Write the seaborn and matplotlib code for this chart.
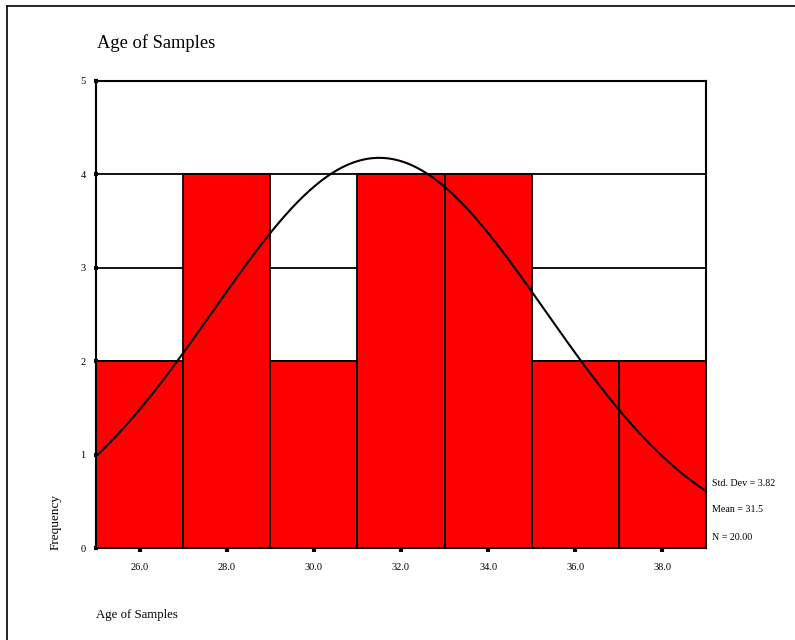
import numpy as np
import pandas as pd
import matplotlib
matplotlib.use("Agg")
import matplotlib.pyplot as plt
from matplotlib.lines import Line2D
import seaborn as sns

# histogram bins (age, width 2) and counts
bin_left = [25, 27, 29, 31, 33, 35, 37]
counts = [2, 4, 2, 4, 4, 2, 2]
bin_width = 2
x_ticks = [26, 28, 30, 32, 34, 36, 38]
y_ticks = [0, 1, 2, 3, 4, 5]

std_dev = 3.82
mean_age = 31.5
n_total = 20.00

sns.set_theme(style="white")
plt.rcParams["font.family"] = ["Liberation Serif", "DejaVu Serif"]
plt.rcParams["text.color"] = "black"
plt.rcParams["xtick.color"] = "black"
plt.rcParams["ytick.color"] = "black"

df = pd.DataFrame({"age": [b + bin_width / 2 for b in bin_left], "count": counts})

fig = plt.figure(figsize=(7.95, 6.4), dpi=100)
ax = fig.add_axes([96 / 795, 1 - 548 / 640, 610 / 795, 467 / 640])

# horizontal grid behind bars
for yv in y_ticks[1:-1]:
    ax.axhline(yv, color="black", lw=1.3, zorder=0)

sns.histplot(data=df, x="age", weights="count", bins=bin_left + [39],
             color="#ff0000", alpha=1, edgecolor="black", linewidth=1.3,
             ax=ax, zorder=2)

# normal curve from the reported mean / std dev
xs = np.linspace(25, 39, 300)
ys = n_total * bin_width * np.exp(-0.5 * ((xs - mean_age) / std_dev) ** 2) / (std_dev * np.sqrt(2 * np.pi))
sns.lineplot(x=xs, y=ys, color="black", lw=1.5, ax=ax, zorder=3)

ax.set_xlim(25, 39)
ax.set_ylim(0, 5)
ax.set_yticks(y_ticks)
ax.set_yticklabels([str(v) for v in y_ticks], fontsize=7.5)
ax.set_xticks(x_ticks)
ax.set_xticklabels([f"{v:.1f}" for v in x_ticks], fontsize=7.5)
ax.tick_params(axis="y", which="both", left=True, length=3, width=3, color="black", pad=6, direction="inout")
ax.tick_params(axis="x", which="both", bottom=True, length=3, width=3, color="black", pad=8, direction="out")
ax.set_xlabel("")
ax.set_ylabel("")
for side in ["top", "left", "right", "bottom"]:
    ax.spines[side].set_visible(True)
    ax.spines[side].set_color("black")
    ax.spines[side].set_linewidth(1.5)

fig.text(97 / 795, 1 - 43 / 640, "Age of Samples", fontsize=13.3, va="center", ha="left")
fig.text(96 / 795, 1 - 615 / 640, "Age of Samples", fontsize=9.2, va="center", ha="left")
fig.text(56 / 795, 1 - 522 / 640, "Frequency", fontsize=9.5, rotation=90, va="center", ha="center")

fig.text(712 / 795, 1 - 483 / 640, f"Std. Dev = {std_dev:.2f}", fontsize=7.2, va="center")
fig.text(712 / 795, 1 - 510 / 640, f"Mean = {mean_age:.1f}", fontsize=7.2, va="center")
fig.text(712 / 795, 1 - 537 / 640, f"N = {n_total:.2f}", fontsize=7.2, va="center")

# page border (top and left)
fig.add_artist(Line2D([7 / 795, 1], [1 - 6 / 640, 1 - 6 / 640], color="black", lw=1.2))
fig.add_artist(Line2D([7 / 795, 7 / 795], [0, 1 - 6 / 640], color="black", lw=1.2))

fig.savefig("out.png", dpi=100)
